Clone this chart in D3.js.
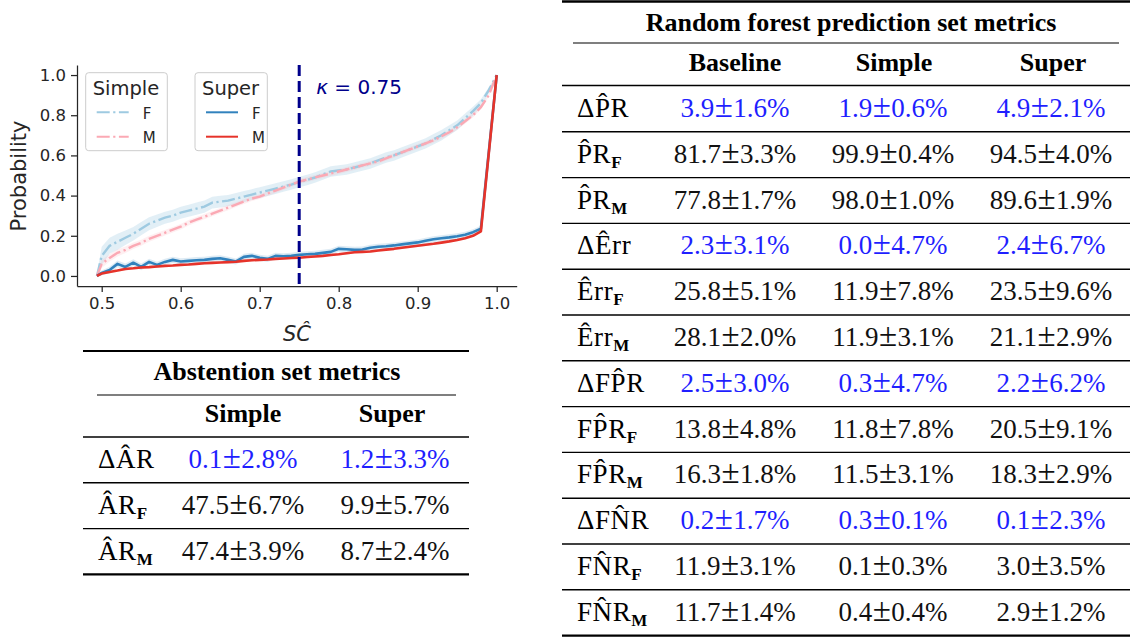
<!DOCTYPE html>
<html>
<head>
<meta charset="utf-8">
<script src="https://cdn.jsdelivr.net/npm/d3@7"></script>
<style>
  html, body { margin: 0; padding: 0; background: #fff; }
  svg { display: block; }
</style>
</head>
<body>
<svg id="fig" width="1133" height="638"></svg>
<script>
// ---------------- DATA ----------------
const scSimple = [0.494,
  0.50,0.51,0.52,0.53,0.54,0.55,0.56,0.57,0.58,0.59,
  0.60,0.61,0.62,0.63,0.64,0.65,0.66,0.67,0.68,0.69,
  0.70,0.71,0.72,0.73,0.74,0.75,0.76,0.77,0.78,0.79,
  0.80,0.81,0.82,0.83,0.84,0.85,0.86,0.87,0.88,0.89,
  0.90,0.91,0.92,0.93,0.94,0.95,0.96,0.97,0.98,0.99,
  1.00];
const simpleF = [0.0,
  0.10,0.15,0.17,0.19,0.21,0.235,0.26,0.275,0.29,0.30,
  0.315,0.325,0.335,0.345,0.365,0.37,0.375,0.385,0.395,0.405,
  0.415,0.425,0.435,0.445,0.455,0.468,0.478,0.49,0.505,0.52,
  0.525,0.53,0.54,0.55,0.56,0.575,0.59,0.60,0.615,0.63,
  0.645,0.66,0.68,0.70,0.725,0.75,0.785,0.82,0.86,0.925,
  1.0];
const simpleM = [0.0,
  0.06,0.09,0.115,0.13,0.15,0.165,0.185,0.20,0.215,0.23,
  0.245,0.265,0.28,0.295,0.31,0.325,0.34,0.355,0.37,0.385,
  0.395,0.41,0.425,0.44,0.455,0.47,0.48,0.49,0.50,0.51,
  0.52,0.53,0.54,0.55,0.56,0.57,0.585,0.60,0.615,0.63,
  0.645,0.66,0.675,0.695,0.715,0.74,0.77,0.80,0.84,0.90,
  1.0];
const simpleFErr = [0.01,
  0.045,0.04,0.04,0.036,0.034,0.033,0.032,0.031,0.03,0.03,
  0.03,0.03,0.03,0.03,0.029,0.029,0.028,0.028,0.028,0.027,
  0.027,0.027,0.027,0.026,0.026,0.026,0.026,0.026,0.026,0.026,
  0.026,0.026,0.026,0.026,0.026,0.026,0.026,0.026,0.026,0.026,
  0.026,0.026,0.026,0.026,0.025,0.024,0.023,0.022,0.02,0.014,
  0.0];
const simpleMErr = [0.008,
  0.02,0.018,0.018,0.016,0.016,0.015,0.015,0.015,0.014,0.014,
  0.014,0.014,0.013,0.013,0.013,0.013,0.013,0.012,0.012,0.012,
  0.012,0.012,0.012,0.012,0.012,0.012,0.012,0.012,0.012,0.012,
  0.012,0.012,0.012,0.012,0.012,0.012,0.012,0.012,0.012,0.012,
  0.012,0.012,0.012,0.012,0.012,0.012,0.012,0.011,0.01,0.008,
  0.0];

const scSuper = [0.494,
  0.50,0.51,0.52,0.53,0.54,0.55,0.56,0.57,0.58,0.59,
  0.60,0.61,0.62,0.63,0.64,0.65,0.66,0.67,0.68,0.69,
  0.70,0.71,0.72,0.73,0.74,0.75,0.76,0.77,0.78,0.79,
  0.80,0.81,0.82,0.83,0.84,0.85,0.86,0.87,0.88,0.89,
  0.90,0.91,0.92,0.93,0.94,0.95,0.96,0.97,0.98,
  1.00];
const superF = [0.0,
  0.015,0.03,0.06,0.045,0.066,0.045,0.07,0.055,0.07,0.08,
  0.072,0.075,0.078,0.08,0.085,0.088,0.08,0.072,0.095,0.10,
  0.09,0.085,0.10,0.098,0.10,0.105,0.108,0.11,0.115,0.12,
  0.135,0.133,0.13,0.132,0.14,0.145,0.148,0.152,0.157,0.162,
  0.167,0.175,0.183,0.188,0.192,0.198,0.205,0.218,0.235,
  1.0];
const superM = [0.0,
  0.012,0.02,0.027,0.035,0.038,0.042,0.044,0.047,0.05,0.052,
  0.055,0.057,0.06,0.063,0.065,0.067,0.069,0.071,0.075,0.078,
  0.08,0.082,0.085,0.087,0.089,0.091,0.094,0.097,0.10,0.104,
  0.108,0.113,0.118,0.12,0.122,0.127,0.131,0.135,0.14,0.145,
  0.15,0.155,0.16,0.166,0.172,0.179,0.188,0.20,0.222,
  1.0];
const superFErr = [0.005,
  0.012,0.016,0.017,0.017,0.017,0.017,0.016,0.016,0.016,0.016,
  0.016,0.016,0.016,0.016,0.015,0.015,0.015,0.015,0.015,0.015,
  0.015,0.015,0.015,0.015,0.015,0.015,0.015,0.015,0.015,0.015,
  0.015,0.015,0.015,0.015,0.015,0.015,0.015,0.015,0.015,0.015,
  0.015,0.015,0.015,0.015,0.015,0.015,0.015,0.015,0.015,
  0.0];
const superMErr = [0.003,
  0.006,0.006,0.006,0.006,0.006,0.006,0.006,0.006,0.006,0.006,
  0.006,0.006,0.006,0.006,0.006,0.006,0.006,0.006,0.006,0.006,
  0.006,0.006,0.006,0.006,0.006,0.006,0.006,0.006,0.006,0.006,
  0.006,0.006,0.006,0.006,0.006,0.006,0.006,0.006,0.006,0.006,
  0.006,0.006,0.006,0.006,0.006,0.006,0.006,0.006,0.006,
  0.0];

const kappa = 0.75;
const xTicks = [0.5, 0.6, 0.7, 0.8, 0.9, 1.0];
const yTicks = [0.0, 0.2, 0.4, 0.6, 0.8, 1.0];

// Abstention table (labels: "\u0302" = hat over the preceding letter)
const absColumns = ["Simple", "Super"];
const absLabels = [
  {delta: true,  word: "A\u0302R", sub: null},
  {delta: false, word: "A\u0302R", sub: "F"},
  {delta: false, word: "A\u0302R", sub: "M"}
];
const absSimple = ["0.1±2.8%", "47.5±6.7%", "47.4±3.9%"];
const absSuper  = ["1.2±3.3%", "9.9±5.7%", "8.7±2.4%"];

// Random forest table
const rfColumns = ["Baseline", "Simple", "Super"];
const rfLabels = [
  {delta: true,  word: "P\u0302R",  sub: null},
  {delta: false, word: "P\u0302R",  sub: "F"},
  {delta: false, word: "P\u0302R",  sub: "M"},
  {delta: true,  word: "E\u0302rr", sub: null},
  {delta: false, word: "E\u0302rr", sub: "F"},
  {delta: false, word: "E\u0302rr", sub: "M"},
  {delta: true,  word: "FP\u0302R", sub: null},
  {delta: false, word: "FP\u0302R", sub: "F"},
  {delta: false, word: "FP\u0302R", sub: "M"},
  {delta: true,  word: "FN\u0302R", sub: null},
  {delta: false, word: "FN\u0302R", sub: "F"},
  {delta: false, word: "FN\u0302R", sub: "M"}
];
const rfBaseline = ["3.9±1.6%", "81.7±3.3%", "77.8±1.7%", "2.3±3.1%", "25.8±5.1%", "28.1±2.0%",
                    "2.5±3.0%", "13.8±4.8%", "16.3±1.8%", "0.2±1.7%", "11.9±3.1%", "11.7±1.4%"];
const rfSimple   = ["1.9±0.6%", "99.9±0.4%", "98.0±1.0%", "0.0±4.7%", "11.9±7.8%", "11.9±3.1%",
                    "0.3±4.7%", "11.8±7.8%", "11.5±3.1%", "0.3±0.1%", "0.1±0.3%", "0.4±0.4%"];
const rfSuper    = ["4.9±2.1%", "94.5±4.0%", "89.6±1.9%", "2.4±6.7%", "23.5±9.6%", "21.1±2.9%",
                    "2.2±6.2%", "20.5±9.1%", "18.3±2.9%", "0.1±2.3%", "3.0±3.5%", "2.9±1.2%"];

// ---------------- STYLE ----------------
const SANS = "'DejaVu Sans', sans-serif";
const SERIF = "'Liberation Serif', 'Times New Roman', serif";
const INK = "#262626";
const BLUE_TXT = "#1f1fff";
const cSimpleF = "#9ecae1", cSimpleM = "#fba9b4", cSuperF = "#3182bd", cSuperM = "#e6332a";

const svg = d3.select("#fig");

// ---------------- PLOT ----------------
const x = d3.scaleLinear().domain([0.46873, 1.02532]).range([77, 516.7]);
const y = d3.scaleLinear().domain([-0.05, 1.05]).range([286, 65]);
const plot = svg.append("g");

function series(xs, ys, es) {
  const n = Math.min(xs.length, ys.length, es ? es.length : Infinity);
  return d3.range(n).map(i => ({x: xs[i], y: ys[i], e: es ? es[i] : 0}));
}
const dSimpleF = series(scSimple, simpleF, simpleFErr);
const dSimpleM = series(scSimple, simpleM, simpleMErr);
const dSuperF = series(scSuper, superF, superFErr);
const dSuperM = series(scSuper, superM, superMErr);

const area = d3.area().x(d => x(d.x)).y0(d => y(d.y - d.e)).y1(d => y(d.y + d.e));
const line = d3.line().x(d => x(d.x)).y(d => y(d.y));

plot.append("path").datum(dSimpleF).attr("d", area).attr("fill", cSimpleF).attr("opacity", 0.3);
plot.append("path").datum(dSimpleM).attr("d", area).attr("fill", cSimpleM).attr("opacity", 0.18);
plot.append("path").datum(dSuperF).attr("d", area).attr("fill", cSuperF).attr("opacity", 0.16);
plot.append("path").datum(dSuperM).attr("d", area).attr("fill", cSuperM).attr("opacity", 0.12);

const dashDot = "13,3.5,2.2,3.5";
plot.append("path").datum(dSimpleF).attr("d", line).attr("fill", "none")
  .attr("stroke", cSimpleF).attr("stroke-width", 2.4).attr("stroke-dasharray", dashDot);
plot.append("path").datum(dSimpleM).attr("d", line).attr("fill", "none")
  .attr("stroke", cSimpleM).attr("stroke-width", 2.4).attr("stroke-dasharray", dashDot);
plot.append("path").datum(dSuperF).attr("d", line).attr("fill", "none")
  .attr("stroke", cSuperF).attr("stroke-width", 2.6).attr("stroke-linejoin", "round");
plot.append("path").datum(dSuperM).attr("d", line).attr("fill", "none")
  .attr("stroke", cSuperM).attr("stroke-width", 2.6).attr("stroke-linejoin", "round");

// kappa line
plot.append("line").attr("x1", x(kappa)).attr("x2", x(kappa)).attr("y1", y.range()[1]).attr("y2", y.range()[0])
  .attr("stroke", "#00008b").attr("stroke-width", 3).attr("stroke-dasharray", "11,5");
const kt = plot.append("text").attr("x", x(kappa) + 17).attr("y", 94)
  .attr("font-family", SANS).attr("font-size", 20).attr("fill", "#00008b");
kt.append("tspan").attr("font-style", "italic").text("κ");
kt.append("tspan").text(" = " + kappa.toFixed(2));

// axes
const xAxis = plot.append("g").attr("transform", "translate(0,286)")
  .call(d3.axisBottom(x).tickValues(xTicks).tickFormat(d3.format(".1f")).tickSize(6).tickSizeOuter(0).tickPadding(5));
const yAxis = plot.append("g").attr("transform", "translate(77,0)")
  .call(d3.axisLeft(y).tickValues(yTicks).tickFormat(d3.format(".1f")).tickSize(6).tickSizeOuter(0).tickPadding(5));
[xAxis, yAxis].forEach(a => {
  a.select(".domain").attr("stroke", INK).attr("stroke-width", 1.25);
  a.selectAll(".tick line").attr("stroke", INK).attr("stroke-width", 1.25);
  a.selectAll(".tick text").attr("fill", INK).attr("font-family", SANS).attr("font-size", 16.5);
});

// axis labels
plot.append("text").attr("transform", "translate(26,176) rotate(-90)").attr("text-anchor", "middle")
  .attr("font-family", SANS).attr("font-size", 21).attr("fill", INK).text("Probability");
plot.append("text").attr("x", 297).attr("y", 341).attr("text-anchor", "middle")
  .attr("font-family", SANS).attr("font-size", 21).attr("font-style", "italic").attr("fill", INK)
  .text("SC\u0302");

// legends
function legend(x0, w, title, items) {
  const g = plot.append("g");
  g.append("rect").attr("x", x0).attr("y", 72.7).attr("width", w).attr("height", 78).attr("rx", 3)
    .attr("fill", "#fff").attr("fill-opacity", 0.8).attr("stroke", "#cccccc").attr("stroke-width", 1);
  g.append("text").attr("x", x0 + 7).attr("y", 95).attr("font-family", SANS).attr("font-size", 19.5)
    .attr("fill", INK).text(title);
  items.forEach((it, i) => {
    const ly = 112.3 + i * 24.4;
    g.append("line").attr("x1", x0 + 11).attr("x2", x0 + 43).attr("y1", ly).attr("y2", ly)
      .attr("stroke", it.color).attr("stroke-width", 2).attr("stroke-dasharray", it.dash || null);
    g.append("text").attr("x", x0 + 57).attr("y", ly + 6.5).attr("font-family", SANS).attr("font-size", 15)
      .attr("fill", INK).text(it.label);
  });
}
legend(85.7, 81.6, "Simple", [
  {label: "F", color: cSimpleF, dash: dashDot},
  {label: "M", color: cSimpleM, dash: dashDot}]);
legend(195, 72.3, "Super", [
  {label: "F", color: cSuperF},
  {label: "M", color: cSuperM}]);

// ---------------- TABLE HELPERS ----------------
function rule(g, x1, x2, yy, w) {
  g.append("line").attr("x1", x1).attr("x2", x2).attr("y1", yy).attr("y2", yy)
    .attr("stroke", "#000").attr("stroke-width", w);
}
function drawLabel(g, x0, yb, lab) {
  const t = g.append("text").attr("x", x0).attr("y", yb).attr("fill", "#000")
    .attr("font-family", SERIF).attr("font-size", 27);
  t.append("tspan").attr("letter-spacing", 0.6).text((lab.delta ? "Δ" : "") + lab.word);
  if (lab.sub) {
    t.append("tspan").attr("font-weight", "bold").attr("font-size", 17).attr("dy", 5).text(lab.sub);
  }
}
function drawValue(g, cx, yb, str, color) {
  const parts = str.split("±");
  const t = g.append("text").attr("x", cx).attr("y", yb).attr("text-anchor", "middle")
    .attr("font-family", SERIF).attr("font-size", 27).attr("fill", color);
  t.append("tspan").text(parts[0]);
  t.append("tspan").attr("dx", 0.5).attr("font-size", 33).text("±");
  t.append("tspan").attr("dx", 0.5).text(parts[1]);
}
function boldText(g, cx, yb, s) {
  g.append("text").attr("x", cx).attr("y", yb).attr("text-anchor", "middle")
    .attr("font-family", SERIF).attr("font-weight", "bold").attr("font-size", 26).attr("fill", "#000").text(s);
}

// ---------------- ABSTENTION TABLE ----------------
const ta = svg.append("g");
const aL = 83, aR = 469, aRowH = 45.8;
rule(ta, aL, aR, 351, 2.2);
boldText(ta, 277, 380, "Abstention set metrics");
rule(ta, 97, 456, 395, 1.2);
const absCx = [243, 395];
absColumns.forEach((c, i) => boldText(ta, i === 0 ? 243 : 392, 422, c));
rule(ta, aL, aR, 437, 1.4);
absLabels.forEach((lab, i) => {
  const top = 437 + i * aRowH;
  const yb = top + 31;
  drawLabel(ta, 98, yb, lab);
  const col = lab.delta ? BLUE_TXT : "#111";
  drawValue(ta, absCx[0], yb, absSimple[i], col);
  drawValue(ta, absCx[1], yb, absSuper[i], col);
  const last = i === absLabels.length - 1;
  rule(ta, aL, aR, top + aRowH, last ? 2.2 : 1.4);
});

// ---------------- RANDOM FOREST TABLE ----------------
const tr = svg.append("g");
const rL = 562, rR = 1130, rRowH = 45.8;
rule(tr, rL, rR, 1.5, 2.4);
boldText(tr, 851, 31, "Random forest prediction set metrics");
rule(tr, 573, 1119, 43, 1.2);
const rfCx = [735, 893, 1051];
rfColumns.forEach((c, i) => boldText(tr, [735, 894, 1053][i], 71, c));
rule(tr, rL, rR, 85.5, 1.4);
rfLabels.forEach((lab, i) => {
  const top = 86 + i * rRowH;
  const yb = top + 31;
  drawLabel(tr, 577, yb, lab);
  const col = lab.delta ? BLUE_TXT : "#111";
  drawValue(tr, rfCx[0], yb, rfBaseline[i], col);
  drawValue(tr, rfCx[1], yb, rfSimple[i], col);
  drawValue(tr, rfCx[2], yb, rfSuper[i], col);
  const last = i === rfLabels.length - 1;
  rule(tr, rL, rR, top + rRowH, last ? 2.4 : 1.4);
});
</script>
</body>
</html>
